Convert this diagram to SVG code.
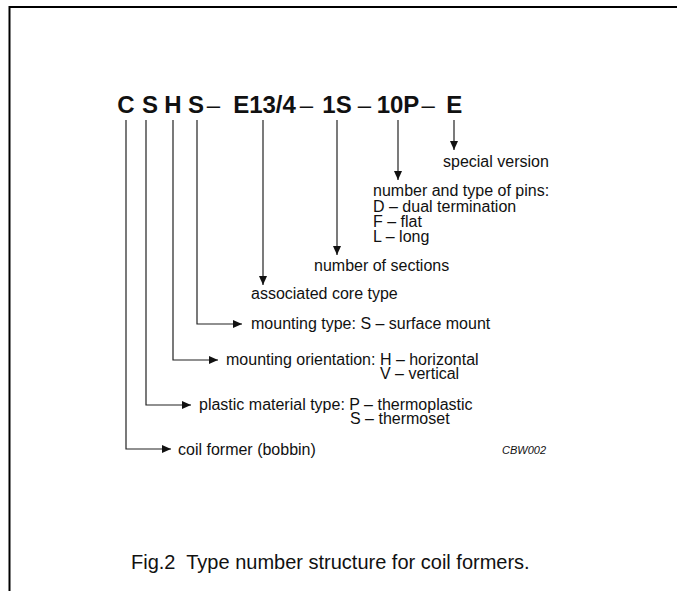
<svg xmlns="http://www.w3.org/2000/svg" width="677" height="591" viewBox="0 0 677 591">
<defs>
<marker id="ah" markerWidth="10" markerHeight="8" refX="9" refY="4" orient="auto" markerUnits="userSpaceOnUse">
<path d="M0,0 L9,4 L0,8 Z" fill="#111"/>
</marker>
<style>
.t{font-family:"Liberation Sans",Arial,sans-serif;font-size:16px;fill:#111}
.code{font-family:"Liberation Sans",Arial,sans-serif;font-size:24px;font-weight:bold;fill:#111;text-anchor:middle}
.dash{font-family:"Liberation Sans",Arial,sans-serif;font-size:24px;fill:#111;text-anchor:middle}
.ln{fill:none;stroke:#222;stroke-width:1.2}
</style>
</defs>
<rect width="677" height="591" fill="#fff"/>
<path d="M9.5,591 V7 H677" fill="none" stroke="#000" stroke-width="2"/>
<g id="code">
<text class="code" x="126" y="113">C</text>
<text class="code" x="150" y="113">S</text>
<text class="code" x="173" y="113">H</text>
<text class="code" x="196" y="113">S</text>
<text class="dash" x="213.5" y="113">–</text>
<text class="code" x="264.5" y="113">E13/4</text>
<text class="dash" x="306.5" y="113">–</text>
<text class="code" x="337" y="113">1S</text>
<text class="dash" x="364.5" y="113">–</text>
<text class="code" x="398" y="113">10P</text>
<text class="dash" x="428.3" y="113">–</text>
<text class="code" x="454.3" y="113">E</text>
</g>
<g id="connectors">
<path class="ln" d="M454,120 V150" marker-end="url(#ah)"/>
<path class="ln" d="M398,120 V180" marker-end="url(#ah)"/>
<path class="ln" d="M337,120 V255" marker-end="url(#ah)"/>
<path class="ln" d="M263,120 V285" marker-end="url(#ah)"/>
<path class="ln" d="M197,120 V324 H242" marker-end="url(#ah)"/>
<path class="ln" d="M173,120 V360 H218" marker-end="url(#ah)"/>
<path class="ln" d="M146,120 V405 H191" marker-end="url(#ah)"/>
<path class="ln" d="M126,120 V449 H171" marker-end="url(#ah)"/>
</g>
<g id="special"><text class="t" x="443" y="167">special version</text></g>
<g id="pins">
<text class="t" x="373" y="196">number and type of pins:</text>
<text class="t" x="373" y="212">D – dual termination</text>
<text class="t" x="373" y="227">F – flat</text>
<text class="t" x="373" y="242">L – long</text>
</g>
<g id="sections"><text class="t" x="314" y="271">number of sections</text></g>
<g id="core"><text class="t" x="251" y="299">associated core type</text></g>
<g id="mounting"><text class="t" x="251" y="329">mounting type: S – surface mount</text></g>
<g id="orientation">
<text class="t" x="226" y="365">mounting orientation: H – horizontal</text>
<text class="t" x="380" y="379">V – vertical</text>
</g>
<g id="material">
<text class="t" x="199" y="410">plastic material type: P – thermoplastic</text>
<text class="t" x="350" y="424">S – thermoset</text>
</g>
<g id="former"><text class="t" x="178" y="455">coil former (bobbin)</text></g>
<text x="502" y="454" font-family="Liberation Sans,Arial,sans-serif" font-size="11" font-style="italic" fill="#111">CBW002</text>
<text x="131" y="569" font-family="Liberation Sans,Arial,sans-serif" font-size="20" fill="#111">Fig.2&#160; Type number structure for coil formers.</text>
</svg>
